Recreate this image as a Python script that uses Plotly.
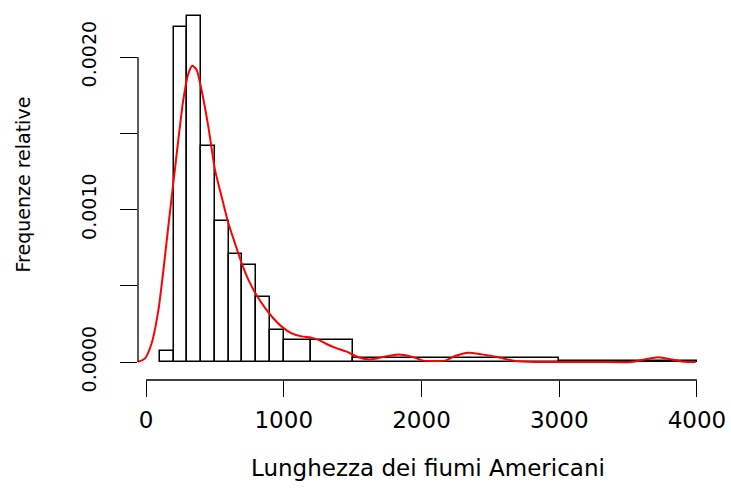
import plotly.graph_objects as go

# Histogram: breaks and relative frequency densities
breaks = [100, 200, 300, 400, 500, 600, 700, 800, 900, 1000, 1200, 1500, 3000, 4000]
densities = [0.0000709, 0.0021986, 0.0022695, 0.0014184, 0.000922, 0.000709,
             0.000638, 0.0004255, 0.0002128, 0.0001418, 0.0001418, 0.0000236, 0.0000071]

# Density curve
curve_x = [-140, -60, -7, 41, 90, 126, 162, 198, 235, 271, 307, 336, 368, 404, 453, 501,
           549, 598, 646, 695, 743, 803, 864, 924, 985, 1058, 1130, 1200, 1260, 1299,
           1372, 1457, 1541, 1626, 1711, 1832, 1929, 2013, 2098, 2171, 2243, 2340, 2437,
           2558, 2679, 2824, 3066, 3300, 3526, 3622, 3719, 3816, 3913, 3990]
curve_y = [0, 0.000001, 0.000024, 0.000123, 0.00034, 0.0006, 0.00089, 0.00117, 0.00146,
           0.00172, 0.00189, 0.001943, 0.001915, 0.00178, 0.00154, 0.00126, 0.001084,
           0.00091, 0.000778, 0.000647, 0.00054, 0.000437, 0.000355, 0.000287, 0.000232,
           0.000188, 0.000168, 0.00016, 0.000142, 0.000123, 0.000094, 0.000068, 0.000031,
           0.000017, 0.000031, 0.00005, 0.000035, 0.000009, 0.0000066, 0.000009, 0.000039,
           0.000061, 0.00005, 0.000031, 0.0000066, 0.0000005, 0.0, 0.0, 0.0, 0.000017,
           0.000031, 0.000017, 0.000001, 0.0]

x_ticks = [0, 1000, 2000, 3000, 4000]
x_ticktext = ["0", "1000", "2000", "3000", "4000"]
y_ticks = [0, 0.0005, 0.001, 0.0015, 0.002]
y_ticktext = ["0.0000", "", "0.0010", "", "0.0020"]

mids = [(a + b) / 2 for a, b in zip(breaks[:-1], breaks[1:])]
widths = [b - a for a, b in zip(breaks[:-1], breaks[1:])]

FONT = "DejaVu Sans"

fig = go.Figure()
fig.add_trace(go.Bar(x=mids, y=densities, width=widths,
                     marker=dict(color="white", line=dict(color="black", width=1.5)),
                     hoverinfo="skip"))
fig.add_trace(go.Scatter(x=curve_x, y=curve_y, mode="lines",
                         line=dict(color="#FF0000", width=2, shape="spline", smoothing=0.6),
                         hoverinfo="skip"))

fig.update_layout(
    width=731, height=488,
    margin=dict(l=138, r=13, t=2, b=108),
    plot_bgcolor="white", paper_bgcolor="white",
    showlegend=False, bargap=0,
    xaxis=dict(range=[-58.1, 4152.5], showgrid=False, zeroline=False, showline=False,
               tickmode="array", tickvals=x_ticks, ticktext=x_ticktext,
               ticks="outside", ticklen=16, tickwidth=1.3, tickcolor="black",
               tickfont=dict(family=FONT, size=23, color="black"),
               ticklabelstandoff=3),
    yaxis=dict(range=[-0.000118, 0.0023607], showgrid=False, zeroline=False, showline=False,
               tickmode="array", tickvals=y_ticks, ticktext=y_ticktext,
               ticks="outside", ticklen=17, tickwidth=1.3, tickcolor="black",
               tickangle=-90,
               tickfont=dict(family=FONT, size=19, color="black"),
               ticklabelstandoff=16),
)

# R-style axis lines spanning only the tick range
fig.add_shape(type="line", xref="x", yref="paper", x0=x_ticks[0], x1=x_ticks[-1], y0=0, y1=0,
              line=dict(color="black", width=1.3))
fig.add_shape(type="line", xref="paper", yref="y", x0=0, x1=0, y0=y_ticks[0], y1=y_ticks[-1],
              line=dict(color="black", width=1.3))

fig.add_annotation(text="Lunghezza dei fiumi Americani", xref="paper", yref="paper",
                   x=0.5, y=0, yanchor="middle", yshift=-88, showarrow=False,
                   font=dict(family=FONT, size=23, color="black"))
fig.add_annotation(text="Frequenze relative", xref="paper", yref="paper",
                   x=0, y=0.5, xanchor="center", yanchor="middle", xshift=-115.5, yshift=6,
                   textangle=-90, showarrow=False,
                   font=dict(family=FONT, size=19, color="black"))

fig.write_html("out.html")
